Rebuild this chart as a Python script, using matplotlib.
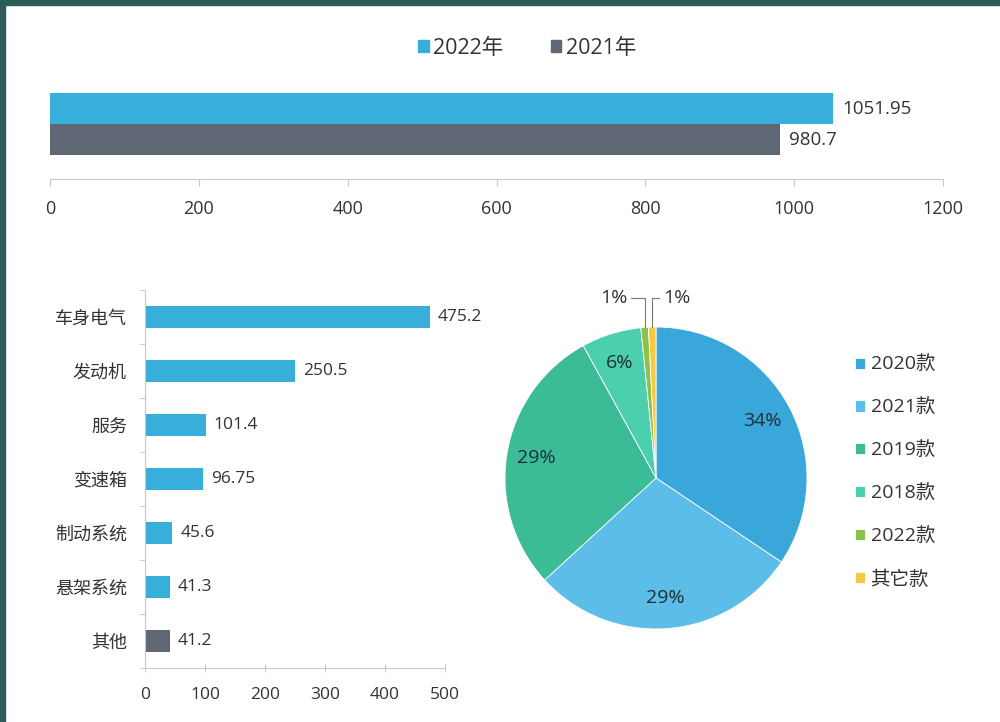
import matplotlib
matplotlib.use('Agg')
import matplotlib.pyplot as plt
from matplotlib.patches import Rectangle, Patch
import numpy as np

plt.rcParams['font.family'] = ['Open Sans', 'Noto Sans CJK SC', 'DejaVu Sans']

# top chart: totals per year
years = ['2022年', '2021年']
totals = [1051.95, 980.7]
year_colors = ['#38afdb', '#5f6775']

# bottom left: by category (2022)
categories = ['车身电气', '发动机', '服务', '变速箱', '制动系统', '悬架系统', '其他']
cat_values = [475.2, 250.5, 101.4, 96.75, 45.6, 41.3, 41.2]
cat_colors = ['#38afdb'] * 6 + ['#5f6775']

# pie: share by model year
models = ['2020款', '2021款', '2019款', '2018款', '2022款', '其它款']
shares = [34.4, 28.8, 28.8, 6.4, 0.8, 0.8]
pie_colors = ['#3aa7da', '#5cbde8', '#3cbb97', '#4ccfad', '#8bc34a', '#f6c945']

txt = '#333333'
axis_c = '#c8c8c8'

W, H = 1000, 722
fig = plt.figure(figsize=(W / 100, H / 100), dpi=100)
fig.patch.set_facecolor('white')


def box(l, t, w, h):
    return [l / W, 1 - (t + h) / H, w / W, h / H]


# frame on top and left
fig.patches.append(Rectangle((0, 1 - 5 / H), 1, 5 / H, transform=fig.transFigure,
                             color='#2b5c57', zorder=10))
fig.patches.append(Rectangle((0, 0), 5 / W, 1, transform=fig.transFigure,
                             color='#2b5c57', zorder=10))

# ---- top chart ----
ax1 = fig.add_axes(box(50, 80, 893, 99))
ypos = [1, 0]
ax1.barh(ypos, totals, height=1.0, color=year_colors)
for y, v in zip(ypos, totals):
    ax1.annotate(f'{v:g}', (v, y), xytext=(9, 0), textcoords='offset pixels',
                 va='center', ha='left', fontsize=13.5, color=txt)
ax1.set_xlim(0, 1200)
ax1.set_ylim(-1.26, 1.93)
ax1.set_xticks(np.arange(0, 1201, 200))
ax1.set_yticks([])
for s in ['top', 'right', 'left']:
    ax1.spines[s].set_visible(False)
ax1.spines['bottom'].set_color(axis_c)
ax1.tick_params(axis='x', direction='out', length=5, color=axis_c,
                labelsize=13, labelcolor=txt, pad=10)

handles = [Patch(color=c) for c in year_colors]
fig.legend(handles, years, loc='center', bbox_to_anchor=(527 / W, 1 - 48 / H),
           ncol=2, frameon=False, fontsize=15.5, handlelength=0.5,
           handleheight=0.5, handletextpad=0.2, columnspacing=2.2,
           labelcolor=txt)

# ---- bottom left bars ----
ax2 = fig.add_axes(box(145, 290, 300, 378))
yy = np.arange(len(categories))
ax2.barh(yy, cat_values, height=0.4, color=cat_colors)
for y, v in zip(yy, cat_values):
    ax2.annotate(f'{v:g}', (v, y), xytext=(8, 0), textcoords='offset pixels',
                 va='center', ha='left', fontsize=12.5, color=txt)
ax2.set_xlim(0, 500)
ax2.set_ylim(len(categories) - 0.5, -0.5)
ax2.set_yticks(yy)
ax2.set_yticklabels(categories)
ax2.set_yticks(np.arange(-0.5, len(categories), 1), minor=True)
ax2.set_xticks(np.arange(0, 501, 100))
for s in ['top', 'right']:
    ax2.spines[s].set_visible(False)
ax2.spines['bottom'].set_color(axis_c)
ax2.spines['left'].set_color(axis_c)
ax2.tick_params(axis='y', which='major', length=0, labelsize=13,
                labelcolor=txt, pad=13)
ax2.tick_params(axis='y', which='minor', length=4, color=axis_c)
ax2.tick_params(axis='x', direction='inout', length=6, color=axis_c,
                labelsize=12.5, labelcolor=txt, pad=10.5)

# ---- pie ----
ax3 = fig.add_axes(box(505, 327, 302, 302))
wedges, texts, autotexts = ax3.pie(
    shares, colors=pie_colors, startangle=90, counterclock=False,
    autopct='%.0f%%', pctdistance=0.8,
    wedgeprops=dict(edgecolor='white', linewidth=0.6),
    textprops=dict(fontsize=14, color='#1e2e36'))
ax3.set_xlim(-1, 1)
ax3.set_ylim(-1, 1)
ax3.set_aspect('equal')

# small slices: labels outside with leader lines
offsets = {4: (-0.19, 1.19, 'right'), 5: (0.05, 1.19, 'left')}
for i, (tx, ty, ha) in offsets.items():
    w = wedges[i]
    ang = np.deg2rad((w.theta1 + w.theta2) / 2)
    px, py = np.cos(ang), np.sin(ang)
    autotexts[i].set_visible(False)
    ax3.annotate(autotexts[i].get_text(), xy=(px, py), xytext=(tx, ty),
                 ha=ha, va='center', fontsize=14, color=txt,
                 arrowprops=dict(arrowstyle='-', color='#777777', lw=0.8,
                                 shrinkA=1, shrinkB=0,
                                 connectionstyle='angle,angleA=0,angleB=90,rad=0'))

ax3.legend(wedges, models, loc='upper left', bbox_to_anchor=(855 / W, 1 - 356 / H),
           bbox_transform=fig.transFigure, frameon=False, fontsize=14,
           handlelength=0.5, handleheight=0.5, handletextpad=0.3,
           labelspacing=1.28, labelcolor=txt, borderaxespad=0, borderpad=0)

fig.savefig('out.png', dpi=100, facecolor='white')
